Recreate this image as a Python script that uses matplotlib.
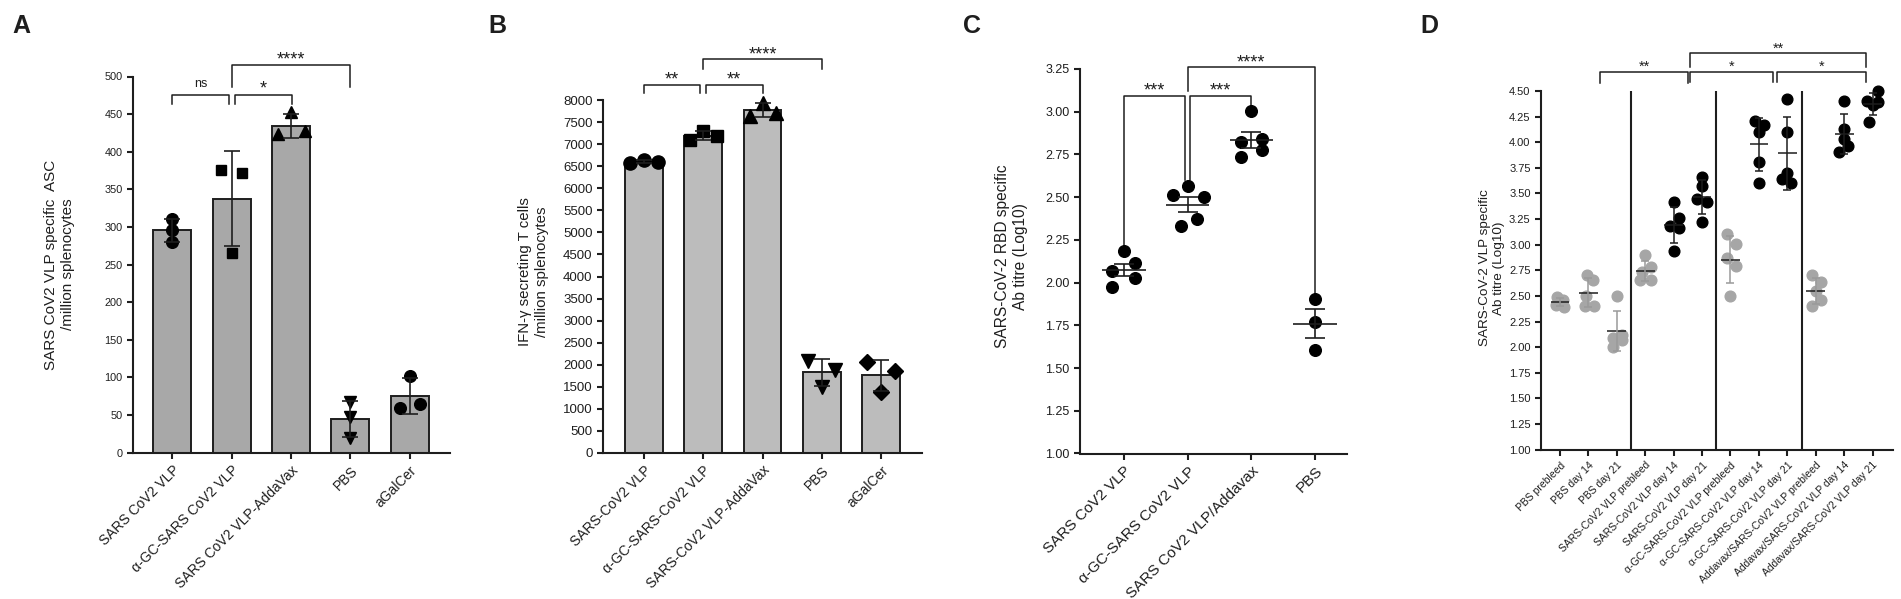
import numpy as np
import matplotlib
matplotlib.use('Agg')
import matplotlib.pyplot as plt

plt.rcParams['font.family'] = ['Liberation Sans', 'DejaVu Sans']
plt.rcParams['text.color'] = '#1e1e1e'

# ---- A: VLP specific ASC per million splenocytes ----
a_labels = ['SARS CoV2 VLP', 'α-GC-SARS CoV2 VLP', 'SARS CoV2 VLP-AddaVax', 'PBS', 'aGalCer']
a_points = [[311, 296, 280], [376, 372, 265], [453, 423, 427], [68, 47, 20], [102, 59, 65]]

# ---- B: IFN-y secreting T cells ----
b_labels = ['SARS-CoV2 VLP', 'α-GC-SARS-CoV2 VLP', 'SARS-CoV2 VLP-AddaVax', 'PBS', 'aGalCer']
b_points = [[6580, 6650, 6590], [7100, 7300, 7200], [7650, 7950, 7710], [2090, 1880, 1500], [2050, 1850, 1370]]

# ---- C: RBD specific Ab titre (log10) ----
c_labels = ['SARS CoV2 VLP', 'α-GC-SARS CoV2 VLP', 'SARS CoV2 VLP/Addavax', 'PBS']
c_points = [[2.186, 2.113, 2.068, 2.025, 1.974],
            [2.563, 2.511, 2.500, 2.372, 2.332],
            [3.004, 2.840, 2.824, 2.775, 2.735],
            [1.902, 1.772, 1.604]]

# ---- D: VLP specific Ab titre over time (log10) ----
d_labels = ['PBS prebleed', 'PBS day 14', 'PBS day 21',
            'SARS-CoV2 VLP prebleed', 'SARS-CoV2 VLP day 14', 'SARS-CoV2 VLP day 21',
            'α-GC-SARS-CoV2 VLP prebleed', 'α-GC-SARS-CoV2 VLP day 14', 'α-GC-SARS-CoV2 VLP day 21',
            'Addavax/SARS-CoV2 VLP prebleed', 'Addavax/SARS-CoV2 VLP day 14', 'Addavax/SARS-CoV2 VLP day 21']
d_points = [[2.49, 2.46, 2.44, 2.41, 2.39],
            [2.70, 2.66, 2.50, 2.40, 2.40],
            [2.50, 2.12, 2.09, 2.07, 2.00],
            [2.90, 2.78, 2.73, 2.66, 2.66],
            [3.42, 3.26, 3.18, 3.16, 2.94],
            [3.66, 3.57, 3.45, 3.42, 3.22],
            [3.10, 3.01, 2.87, 2.79, 2.50],
            [4.21, 4.17, 4.10, 3.81, 3.60],
            [4.42, 4.10, 3.70, 3.64, 3.60],
            [2.70, 2.64, 2.55, 2.46, 2.40],
            [4.40, 4.13, 4.03, 3.96, 3.90],
            [4.50, 4.40, 4.39, 4.36, 4.20]]
d_gray_groups = [0, 1, 2, 3, 6, 9]

# horizontal scatter of the dots inside each group (layout only)
a_jitter = [[0, 0, 0], [-0.17, 0.17, 0], [0, -0.21, 0.24], [0, 0, 0], [0, -0.16, 0.17]]
b_jitter = [[-0.24, 0, 0.23], [-0.23, 0, 0.23], [-0.21, 0, 0.23], [-0.23, 0.23, 0], [-0.23, 0.23, 0]]
c_jitter = [[0, 0.17, -0.18, 0.17, -0.18], [0, -0.23, 0.26, 0.14, -0.10],
            [0, 0.17, -0.16, 0.17, -0.16], [0, 0, 0]]
d_jitter = [[-0.1, 0.1, 0, -0.15, 0.15], [-0.06, 0.16, -0.1, -0.13, 0.2], [0, 0.19, -0.12, 0.19, -0.12],
            [0, 0.19, -0.12, -0.19, 0.19], [0, 0.19, -0.12, 0.19, 0], [0, 0, -0.19, 0.19, 0],
            [-0.12, 0.19, -0.12, 0.19, 0], [-0.12, 0.19, 0, 0, 0], [0, 0, 0, -0.19, 0.12],
            [-0.12, 0.19, 0, 0.19, -0.12], [0, 0, 0, 0.12, -0.19], [0.19, -0.19, 0.19, 0, -0.12]]

INK = '#1e1e1e'
W, H = 1901, 599


def px_axes(left, top, right, bottom):
    return fig.add_axes([left / W, 1 - bottom / H, (right - left) / W, (bottom - top) / H])


def style_axes(ax, ysize, lw=1.5):
    for s in ['top', 'right']:
        ax.spines[s].set_visible(False)
    for s in ['left', 'bottom']:
        ax.spines[s].set_linewidth(lw)
        ax.spines[s].set_color(INK)
    ax.tick_params(direction='out', width=lw, length=4, colors=INK, labelsize=ysize)


def bracket(ax, x1, x2, y, leg1, leg2, text, ty, fs=13):
    ax.plot([x1, x1, x2, x2], [leg1, y, y, leg2], color=INK, lw=1.1, clip_on=False)
    # ty is where the middle of the glyphs should sit; shift the baseline down accordingly
    k = 0.26 if text == 'ns' else 0.57
    ax.annotate(text, xy=((x1 + x2) / 2, ty), xytext=(0, -k * fs), textcoords='offset points',
                ha='center', va='baseline', fontsize=fs, annotation_clip=False)


def bar_panel(ax, labels, points, markers, jitter, color, ms, capsize):
    x = np.arange(len(labels))
    means = [np.mean(p) for p in points]
    sds = [np.std(p, ddof=1) for p in points]
    ax.bar(x, means, width=0.64, color=color, edgecolor=INK, linewidth=1.4, zorder=1)
    for i, p in enumerate(points):
        mk_ms = ms - 1.2 if markers[i] in ('s', 'D') else ms
        ax.plot(x[i] + np.array(jitter[i]), p, linestyle='none', marker=markers[i],
                ms=mk_ms, color='black', zorder=3, clip_on=False)
    ax.errorbar(x, means, yerr=sds, fmt='none', ecolor=INK, elinewidth=1.2,
                capsize=capsize, capthick=1.2, zorder=4)
    ax.set_xticks(x)
    ax.set_xticklabels(labels, rotation=45, ha='right', rotation_mode='anchor', fontsize=10)


def ylabel(ax, text, xpos, ypos, fs):
    ax.text(xpos, ypos, text, rotation=90, ha='center', va='center', multialignment='center',
            fontsize=fs, transform=ax.transAxes, linespacing=1.25)


fig = plt.figure(figsize=(W / 100, H / 100), dpi=100)

# ---------------- A ----------------
ax = px_axes(133, 76.5, 450, 452.7)
bar_panel(ax, a_labels, a_points, ['o', 's', '^', 'v', 'o'], a_jitter, '#a8a8a8', 8.4, 6)
ax.set_xlim(-0.66, 4.68)
ax.set_ylim(0, 500)
ax.set_yticks(np.arange(0, 501, 50))
style_axes(ax, 7.8)
ax.tick_params(axis='x', labelsize=10)
ylabel(ax, 'SARS CoV2 VLP specific  ASC\n/million splenocytes', -0.233, 0.5, 11)
bracket(ax, 0, 0.955, 475, 464, 464, 'ns', 491, 9)
bracket(ax, 1.056, 2.01, 475, 464, 464, '*', 491)
bracket(ax, 1.0, 2.99, 515, 486, 486, '****', 530)

# ---------------- B ----------------
ax = px_axes(603, 100.3, 922, 452.7)
bar_panel(ax, b_labels, b_points, ['o', 's', '^', 'v', 'D'], b_jitter, '#bcbcbc', 9.5, 6)
ax.set_xlim(-0.69, 4.69)
ax.set_ylim(0, 8000)
ax.set_yticks(np.arange(0, 8001, 500))
style_axes(ax, 9.5)
ax.tick_params(axis='x', labelsize=10)
ylabel(ax, 'IFN-γ secreting T cells\n/million splenocytes', -0.219, 0.513, 10.8)
bracket(ax, 0, 0.953, 8349, 8175, 8175, '**', 8601)
bracket(ax, 1.04, 2.0, 8349, 8175, 8175, '**', 8601)
bracket(ax, 1.0, 3.0, 8931, 8714, 8714, '****', 9165)

# ---------------- C ----------------
ax = px_axes(1080, 68.9, 1347, 453.5)
for i, p in enumerate(c_points):
    ax.plot(i + np.array(c_jitter[i]), p, linestyle='none', marker='o', ms=8.4, color='black', zorder=3)
    m = np.mean(p)
    sem = np.std(p, ddof=1) / np.sqrt(len(p))
    ax.hlines(m, i - 0.34, i + 0.34, color=INK, lw=1.2, zorder=4)
    ax.errorbar(i, m, yerr=sem, fmt='none', ecolor=INK, elinewidth=1.2, capsize=7.3, capthick=1.2, zorder=4)
ax.set_xticks(np.arange(len(c_labels)))
ax.set_xticklabels(c_labels, rotation=45, ha='right', rotation_mode='anchor')
ax.set_xlim(-0.69, 3.5)
ax.set_ylim(1.0, 3.25)
ax.set_yticks(np.arange(1.0, 3.26, 0.25))
ax.set_yticklabels(['%.2f' % v for v in np.arange(1.0, 3.26, 0.25)])
style_axes(ax, 9)
ax.tick_params(axis='x', labelsize=11)
ylabel(ax, 'SARS-CoV-2 RBD specific\nAb titre (Log10)', -0.258, 0.513, 11.2)
bracket(ax, 0, 0.96, 3.093, 2.22, 2.60, '***', 3.156)
bracket(ax, 1.04, 2.0, 3.093, 2.60, 3.037, '***', 3.156)
bracket(ax, 1.0, 3.0, 3.261, 3.12, 1.94, '****', 3.317)

# ---------------- D ----------------
ax = px_axes(1541, 91, 1893, 449.7)
for i, p in enumerate(d_points):
    col = '#a6a6a6' if i in d_gray_groups else 'black'
    ax.plot(i + np.array(d_jitter[i]), p, linestyle='none', marker='o', ms=7.7, color=col, zorder=3,
            clip_on=False)
    m = np.mean(p)
    sd = np.std(p, ddof=1)
    ax.hlines(m, i - 0.33, i + 0.33, color=INK, lw=1.1, zorder=4)
    ax.errorbar(i, m, yerr=sd, fmt='none', ecolor=('#9a9a9a' if i in d_gray_groups else INK),
                elinewidth=1.1, capsize=3, capthick=1.1, zorder=4)
for xs in [2.5, 5.5, 8.5]:
    ax.axvline(xs, color=INK, lw=1.5, zorder=2)
ax.set_xticks(np.arange(len(d_labels)))
ax.set_xticklabels(d_labels, rotation=45, ha='right', rotation_mode='anchor')
ax.set_xlim(-0.67, 11.72)
ax.set_ylim(1.0, 4.5)
ax.set_yticks(np.arange(1.0, 4.51, 0.25))
ax.set_yticklabels(['%.2f' % v for v in np.arange(1.0, 4.51, 0.25)])
style_axes(ax, 8)
ax.tick_params(axis='x', labelsize=7.5)
ylabel(ax, 'SARS-CoV-2 VLP specific\nAb titre (Log10)', -0.139, 0.507, 9.7)
bracket(ax, 1.41, 4.5, 4.688, 4.575, 4.575, '**', 4.78, 10.5)
bracket(ax, 4.58, 7.5, 4.688, 4.585, 4.585, '*', 4.78, 10.5)
bracket(ax, 7.64, 10.77, 4.688, 4.585, 4.585, '*', 4.78, 10.5)
bracket(ax, 4.58, 10.77, 4.868, 4.737, 4.737, '**', 4.95, 10.5)

# panel letters
for letter, lx in [('A', 12), ('B', 488), ('C', 963), ('D', 1420)]:
    fig.text(lx / W, 1 - 14 / H, letter, fontsize=18, fontweight='bold', va='top', ha='left')

fig.savefig('out.png', dpi=100)
